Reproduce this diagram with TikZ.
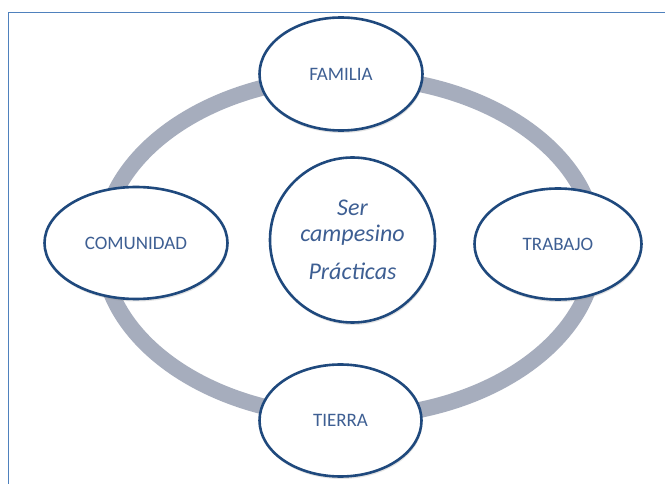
\documentclass[tikz,border=0pt]{standalone}
\usepackage{fontspec}
\setmainfont{Carlito}
\usetikzlibrary{shapes.geometric,shadows}
\definecolor{navy}{HTML}{1F497D}
\definecolor{txtblue}{HTML}{3E5F93}
\definecolor{ringgray}{HTML}{A6ADBD}
\definecolor{framebl}{HTML}{4F81BD}
\begin{document}
\begin{tikzpicture}[x=1pt,y=-1pt,
  lbl/.style={ellipse, draw=navy, line width=2.6pt, fill=white, inner sep=0pt,
    text=txtblue, font=\fontsize{19}{22}\selectfont,
    drop shadow={opacity=0.22, shadow xshift=0.8pt, shadow yshift=-2.5pt}},
  core/.style={circle, draw=navy, line width=2.6pt, fill=white, inner sep=0pt,
    text=txtblue, align=center, font=\fontsize{24}{26}\selectfont\itshape,
    drop shadow={opacity=0.22, shadow xshift=0.8pt, shadow yshift=-2.5pt}},
  ring/.style={draw=ringgray, line width=16pt},
  framel/.style={draw=framebl, line width=0.8pt}]
\useasboundingbox (0,0) rectangle (665,484);
\fill[white] (0,0) rectangle (665,484);
\draw[framel] (8,490) -- (8,12) -- (670,12);
\coordinate (rc) at (349,247);
\draw[ring] (rc) ellipse [x radius=247, y radius=170];
\node[core, minimum size=165pt] (ser) at (352.5,240) {Ser\\campesino\\[12pt]Prácticas};
\node[lbl, minimum width=163pt, minimum height=113pt] (fam) at (341,74) {FAMILIA};
\node[lbl, minimum width=183pt, minimum height=112pt] (com) at (136,243) {COMUNIDAD};
\node[lbl, minimum width=167pt, minimum height=111pt] (tra) at (558,244) {TRABAJO};
\node[lbl, minimum width=162pt, minimum height=112pt] (tie) at (340.5,420.5) {TIERRA};
\end{tikzpicture}
\end{document}
